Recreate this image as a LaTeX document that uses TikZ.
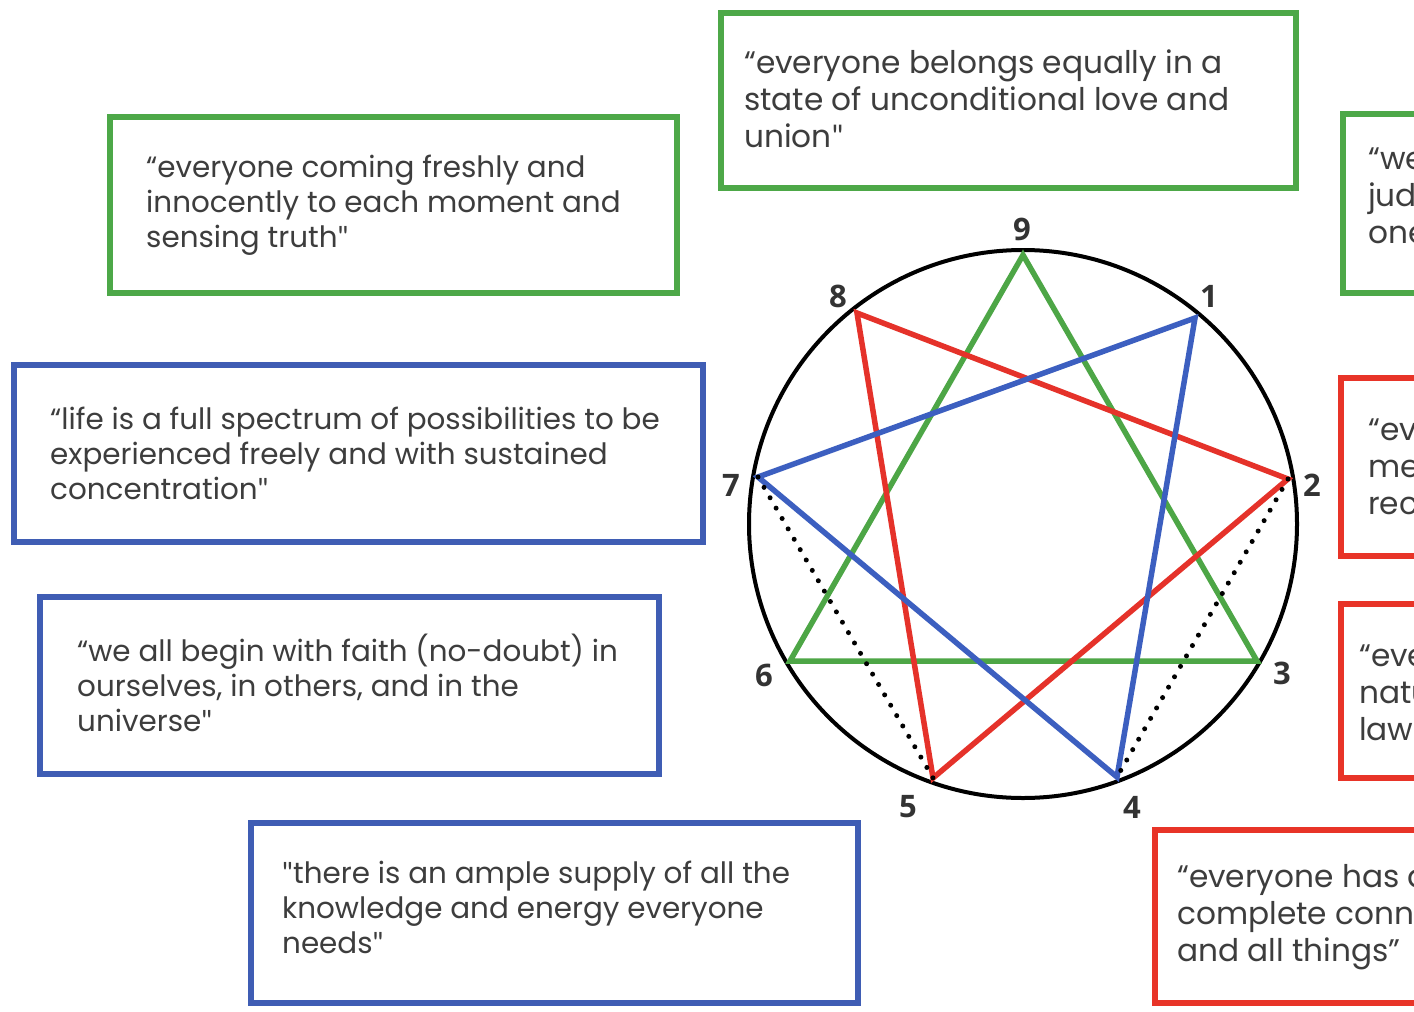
\documentclass[tikz,border=0pt]{standalone}
\usepackage{fontspec}
\setmainfont{Poppins}
\newfontfamily\numfont{Open Sans}
\newfontfamily\quotefont{Lato}
\newcommand\sq{{\quotefont"}}
\definecolor{gboxc}{HTML}{4DA848}
\definecolor{bboxc}{HTML}{3F5DB4}
\definecolor{rboxc}{HTML}{E83428}
\definecolor{gstarc}{HTML}{4DA646}
\definecolor{bstarc}{HTML}{3C5FC0}
\definecolor{rstarc}{HTML}{E5322A}
\definecolor{txtgray}{HTML}{3D3D3D}
\definecolor{numgray}{HTML}{333333}
\begin{document}
\begin{tikzpicture}[x=1pt,y=-1pt,
  qbox/.style={line width=5.5pt},
  qtxt/.style={anchor=west, align=left, text=txtgray, inner sep=0pt,
    font=\fontsize{29.4}{35}\selectfont},
  qtxtw/.style={anchor=west, align=left, text=txtgray, inner sep=0pt,
    font=\fontsize{31.2}{37}\selectfont},
  num/.style={text=numgray, inner sep=0pt, font=\numfont\bfseries\fontsize{31}{31}\selectfont},
  ring/.style={line width=4pt},
  gline/.style={draw=gstarc, line width=5.5pt},
  rline/.style={draw=rstarc, line width=5.5pt},
  bline/.style={draw=bstarc, line width=5.5pt},
  dotline/.style={line width=5pt, dash pattern=on 0pt off 12pt, line cap=round}]
\useasboundingbox (0,0) rectangle (1414,1012);
\clip (0,0) rectangle (1414,1012);
\fill[white] (0,0) rectangle (1414,1012);

% ---- boxes
\draw[qbox, draw=gboxc] (721,13) rectangle (1296,188);
\draw[qbox, draw=gboxc] (110,117) rectangle (677,293);
\draw[qbox, draw=gboxc] (1343,114) rectangle (1460,293);
\draw[qbox, draw=bboxc] (14,365) rectangle (703,542);
\draw[qbox, draw=rboxc] (1341,378) rectangle (1460,556);
\draw[qbox, draw=bboxc] (40,597) rectangle (659,774);
\draw[qbox, draw=rboxc] (1341,604) rectangle (1460,778);
\draw[qbox, draw=bboxc] (251,823) rectangle (858,1003);
\draw[qbox, draw=rboxc] (1155,830) rectangle (1460,1003);

% ---- texts
\node[qtxtw] (t1) at (744,99) {“everyone belongs equally in a\\state of unconditional love and\\union\sq};
\node[qtxt] (t2) at (146,205) {“everyone coming freshly and\\innocently to each moment and\\sensing truth\sq};
\node[qtxtw] (t3) at (1368,196) {“we\\jud\\one};
\node[qtxt] (t4) at (50,453) {“life is a full spectrum of possibilities to be\\experienced freely and with sustained\\concentration\sq};
\node[qtxtw] (t5) at (1368,467) {“ev\\me\\rec};
\node[qtxt] (t6) at (77,683) {“we all begin with faith (no-doubt) in\\ourselves, in others, and in the\\universe\sq};
\node[qtxtw] (t7) at (1359,693) {“eve\\natu\\law};
\node[qtxt] (t8) at (282,907) {\sq there is an ample supply of all the\\knowledge and energy everyone\\needs\sq};
\node[qtxtw] (t9) at (1177,917) {“everyone has a\\complete conne\\and all things”};

% ---- enneagram
\coordinate (cen) at (1023,524);
\coordinate (v9) at (1023,255);
\coordinate (v1) at (1195,318);
\coordinate (v2) at (1288,479);
\coordinate (v3) at (1257,661);
\coordinate (v4) at (1117,777);
\coordinate (v5) at (933,778);
\coordinate (v6) at (790,661);
\coordinate (v7) at (758,477);
\coordinate (v8) at (857,313);
\draw[ring] (cen) circle[radius=274];
\draw[gline] (v9) -- (v3) -- (v6) -- cycle;
\draw[rline] (v8) -- (v2) -- (v5) -- cycle;
\draw[bline] (v1) -- (v7) -- (v4) -- cycle;
\draw[dotline] (v7) -- (v5);
\draw[dotline] (v2) -- (v4);

\node[num] (n9) at (1022,229) {9};
\node[num] (n1) at (1209,296) {1};
\node[num] (n2) at (1312,485) {2};
\node[num] (n3) at (1282,673) {3};
\node[num] (n4) at (1132,807) {4};
\node[num] (n5) at (908,807) {5};
\node[num] (n6) at (764,675) {6};
\node[num] (n7) at (731,485) {7};
\node[num] (n8) at (838,296) {8};
\end{tikzpicture}
\end{document}
